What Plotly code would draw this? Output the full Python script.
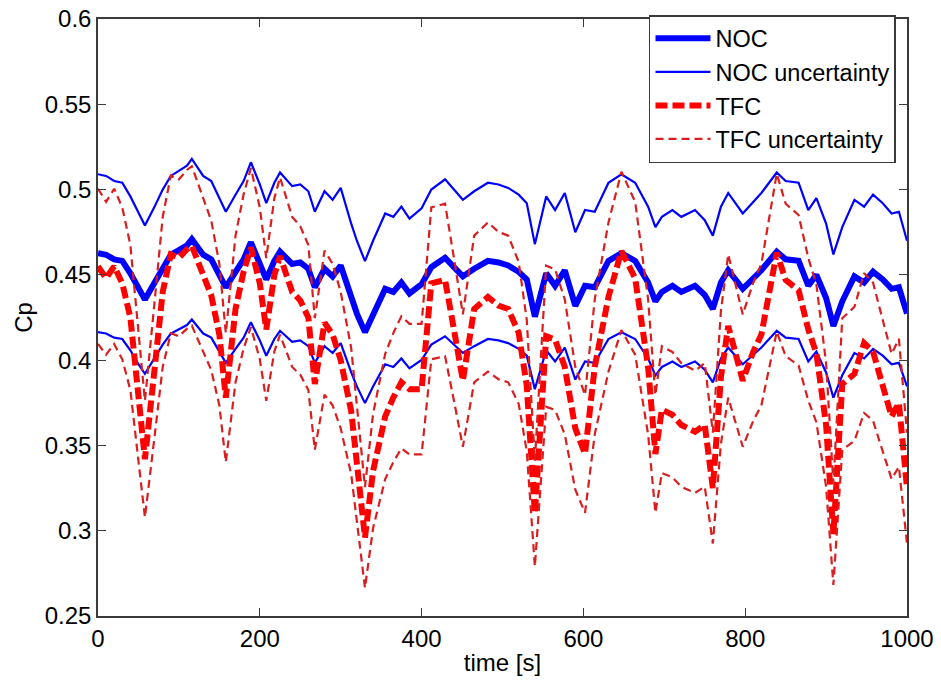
import plotly.graph_objects as go

time_s = [0, 10, 20, 30, 40, 50, 58, 70, 80, 90,
          100, 110, 116, 130, 140, 150, 158, 170, 180, 189,
          200, 208, 218, 225, 240, 250, 260, 268, 280, 290,
          300, 313, 320, 330, 340, 355, 365, 375, 385, 400,
          412, 429, 440, 451, 465, 482, 495, 507, 520, 530,
          540, 554, 565, 577, 590, 602, 614, 631, 647, 664,
          680, 689, 697, 710, 721, 738, 750, 760, 770, 779,
          797, 810, 820, 839, 850, 866, 878, 888, 900, 909,
          920, 935, 947, 958, 970, 981, 990, 1000]

noc = [0.4627, 0.4618, 0.4591, 0.4582, 0.4509, 0.4418, 0.4355, 0.4455, 0.4545, 0.4618,
       0.4645, 0.4673, 0.4709, 0.4618, 0.4591, 0.4500, 0.4427, 0.4518, 0.4591, 0.4691,
       0.4573, 0.4473, 0.4582, 0.4636, 0.4564, 0.4573, 0.4536, 0.4427, 0.4536, 0.4491,
       0.4555, 0.4364, 0.4273, 0.4164, 0.4273, 0.4418, 0.4400, 0.4455, 0.4391, 0.4445,
       0.4545, 0.4600, 0.4545, 0.4491, 0.4536, 0.4582, 0.4573, 0.4555, 0.4518, 0.4473,
       0.4255, 0.4509, 0.4436, 0.4527, 0.4318, 0.4436, 0.4427, 0.4582, 0.4627, 0.4582,
       0.4455, 0.4345, 0.4400, 0.4436, 0.4400, 0.4436, 0.4382, 0.4300, 0.4455, 0.4527,
       0.4418, 0.4482, 0.4527, 0.4636, 0.4591, 0.4582, 0.4436, 0.4500, 0.4364, 0.4200,
       0.4345, 0.4491, 0.4455, 0.4518, 0.4473, 0.4418, 0.4427, 0.4273]

noc_upper = [0.509, 0.508, 0.505, 0.504, 0.496, 0.486, 0.479, 0.490, 0.500, 0.508,
             0.511, 0.514, 0.518, 0.508, 0.505, 0.495, 0.487, 0.497, 0.505, 0.516,
             0.503, 0.492, 0.504, 0.510, 0.502, 0.503, 0.499, 0.487, 0.499, 0.494,
             0.501, 0.480, 0.470, 0.458, 0.470, 0.486, 0.484, 0.490, 0.483, 0.489,
             0.500, 0.506, 0.500, 0.494, 0.499, 0.504, 0.503, 0.501, 0.497, 0.492,
             0.468, 0.496, 0.488, 0.498, 0.475, 0.488, 0.487, 0.504, 0.509, 0.504,
             0.490, 0.478, 0.484, 0.488, 0.484, 0.488, 0.482, 0.473, 0.490, 0.498,
             0.486, 0.493, 0.498, 0.510, 0.505, 0.504, 0.488, 0.495, 0.480, 0.462,
             0.478, 0.494, 0.490, 0.497, 0.492, 0.486, 0.487, 0.470]

noc_lower = [0.4164, 0.4156, 0.4132, 0.4124, 0.4058, 0.3976, 0.3920, 0.4010, 0.4091, 0.4156,
             0.4181, 0.4206, 0.4238, 0.4156, 0.4132, 0.4050, 0.3984, 0.4066, 0.4132, 0.4222,
             0.4116, 0.4026, 0.4124, 0.4172, 0.4108, 0.4116, 0.4082, 0.3984, 0.4082, 0.4042,
             0.4100, 0.3928, 0.3846, 0.3748, 0.3846, 0.3976, 0.3960, 0.4010, 0.3952, 0.4001,
             0.4091, 0.4140, 0.4091, 0.4042, 0.4082, 0.4124, 0.4116, 0.4100, 0.4066, 0.4026,
             0.3830, 0.4058, 0.3992, 0.4074, 0.3886, 0.3992, 0.3984, 0.4124, 0.4164, 0.4124,
             0.4010, 0.3911, 0.3960, 0.3992, 0.3960, 0.3992, 0.3944, 0.3870, 0.4010, 0.4074,
             0.3976, 0.4034, 0.4074, 0.4172, 0.4132, 0.4124, 0.3992, 0.4050, 0.3928, 0.3780,
             0.3911, 0.4042, 0.4010, 0.4066, 0.4026, 0.3976, 0.3984, 0.3846]

tfc = [0.455, 0.448, 0.455, 0.445, 0.425, 0.380, 0.342, 0.395, 0.440, 0.462,
       0.460, 0.465, 0.467, 0.450, 0.438, 0.415, 0.378, 0.430, 0.452, 0.466,
       0.445, 0.418, 0.450, 0.461, 0.440, 0.435, 0.425, 0.386, 0.422, 0.415,
       0.400, 0.370, 0.338, 0.296, 0.335, 0.367, 0.378, 0.387, 0.383, 0.383,
       0.445, 0.447, 0.418, 0.388, 0.430, 0.437, 0.432, 0.430, 0.416, 0.385,
       0.310, 0.414, 0.412, 0.396, 0.360, 0.345, 0.396, 0.437, 0.464, 0.448,
       0.396, 0.345, 0.371, 0.368, 0.362, 0.358, 0.362, 0.325, 0.390, 0.420,
       0.388, 0.405, 0.415, 0.463, 0.447, 0.441, 0.418, 0.404, 0.362, 0.298,
       0.386, 0.392, 0.410, 0.405, 0.385, 0.367, 0.375, 0.325]

tfc_upper = [0.5005, 0.4928, 0.5005, 0.4895, 0.4675, 0.4180, 0.3762, 0.4345, 0.4840, 0.5082,
             0.5060, 0.5115, 0.5137, 0.4950, 0.4818, 0.4565, 0.4158, 0.4730, 0.4972, 0.5126,
             0.4895, 0.4598, 0.4950, 0.5071, 0.4840, 0.4785, 0.4675, 0.4246, 0.4642, 0.4565,
             0.4400, 0.4070, 0.3718, 0.3256, 0.3685, 0.4037, 0.4158, 0.4257, 0.4213, 0.4213,
             0.4895, 0.4917, 0.4598, 0.4268, 0.4730, 0.4807, 0.4752, 0.4730, 0.4576, 0.4235,
             0.3410, 0.4554, 0.4532, 0.4356, 0.3960, 0.3795, 0.4356, 0.4807, 0.5104, 0.4928,
             0.4356, 0.3795, 0.4081, 0.4048, 0.3982, 0.3938, 0.3982, 0.3575, 0.4290, 0.4620,
             0.4268, 0.4455, 0.4565, 0.5093, 0.4917, 0.4851, 0.4598, 0.4444, 0.3982, 0.3278,
             0.4246, 0.4312, 0.4510, 0.4455, 0.4235, 0.4037, 0.4125, 0.3575]

tfc_lower = [0.4095, 0.4032, 0.4095, 0.4005, 0.3825, 0.3420, 0.3078, 0.3555, 0.3960, 0.4158,
             0.4140, 0.4185, 0.4203, 0.4050, 0.3942, 0.3735, 0.3402, 0.3870, 0.4068, 0.4194,
             0.4005, 0.3762, 0.4050, 0.4149, 0.3960, 0.3915, 0.3825, 0.3474, 0.3798, 0.3735,
             0.3600, 0.3330, 0.3042, 0.2664, 0.3015, 0.3303, 0.3402, 0.3483, 0.3447, 0.3447,
             0.4005, 0.4023, 0.3762, 0.3492, 0.3870, 0.3933, 0.3888, 0.3870, 0.3744, 0.3465,
             0.2790, 0.3726, 0.3708, 0.3564, 0.3240, 0.3105, 0.3564, 0.3933, 0.4176, 0.4032,
             0.3564, 0.3105, 0.3339, 0.3312, 0.3258, 0.3222, 0.3258, 0.2925, 0.3510, 0.3780,
             0.3492, 0.3645, 0.3735, 0.4167, 0.4023, 0.3969, 0.3762, 0.3636, 0.3258, 0.2682,
             0.3474, 0.3528, 0.3690, 0.3645, 0.3465, 0.3303, 0.3375, 0.2925]

x_ticks = [0, 200, 400, 600, 800, 1000]
y_ticks = [0.25, 0.3, 0.35, 0.4, 0.45, 0.5, 0.55, 0.6]
y_tick_labels = ["0.25", "0.3", "0.35", "0.4", "0.45", "0.5", "0.55", "0.6"]

for arr in (noc, noc_upper, noc_lower, tfc, tfc_upper, tfc_lower):
    assert len(arr) == len(time_s)

BLUE = "#0000ff"
RED = "#ff0000"
RED_THIN = "#d81e1e"
FONT = "Liberation Sans, Arial, sans-serif"

fig = go.Figure()
fig.add_trace(go.Scatter(x=time_s, y=noc, mode="lines", name="NOC",
                         line=dict(color=BLUE, width=6)))
fig.add_trace(go.Scatter(x=time_s, y=noc_upper, mode="lines", name="NOC uncertainty",
                         legendgroup="nocu", line=dict(color=BLUE, width=2.2)))
fig.add_trace(go.Scatter(x=time_s, y=noc_lower, mode="lines", name="NOC uncertainty",
                         legendgroup="nocu", showlegend=False,
                         line=dict(color=BLUE, width=2.2)))
fig.add_trace(go.Scatter(x=time_s, y=tfc, mode="lines", name="TFC",
                         line=dict(color=RED, width=6, dash="12px,5px")))
fig.add_trace(go.Scatter(x=time_s, y=tfc_upper, mode="lines", name="TFC uncertainty",
                         legendgroup="tfcu", line=dict(color=RED_THIN, width=2.2, dash="8px,5px")))
fig.add_trace(go.Scatter(x=time_s, y=tfc_lower, mode="lines", name="TFC uncertainty",
                         legendgroup="tfcu", showlegend=False,
                         line=dict(color=RED_THIN, width=2.2, dash="8px,5px")))

axis_common = dict(showline=True, linecolor="#3a3a3a", linewidth=1.5, mirror="ticks",
                   ticks="inside", ticklen=8, tickwidth=1.2, tickcolor="#3a3a3a",
                   showgrid=False, zeroline=False,
                   tickfont=dict(family=FONT, size=24, color="black"))

fig.update_xaxes(range=[0, 1000], tickvals=x_ticks,
                 title=dict(text="time [s]", font=dict(family=FONT, size=24, color="black"),
                            standoff=4),
                 **axis_common)
fig.update_yaxes(range=[0.25, 0.6], tickvals=y_ticks, ticktext=y_tick_labels,
                 title=dict(text="Cp", font=dict(family=FONT, size=24, color="black"),
                            standoff=5),
                 **axis_common)

fig.update_layout(
    width=941, height=683,
    margin=dict(l=98, r=34, t=19, b=67, autoexpand=False),
    paper_bgcolor="white", plot_bgcolor="white",
    showlegend=True,
    legend=dict(x=0.9864, y=1.0067, xanchor="right", yanchor="top",
                bgcolor="white", bordercolor="#3a3a3a", borderwidth=1.5,
                font=dict(family=FONT, size=23.5, color="black"),
                tracegroupgap=0, itemwidth=55),
)

fig.write_html("out.html")
